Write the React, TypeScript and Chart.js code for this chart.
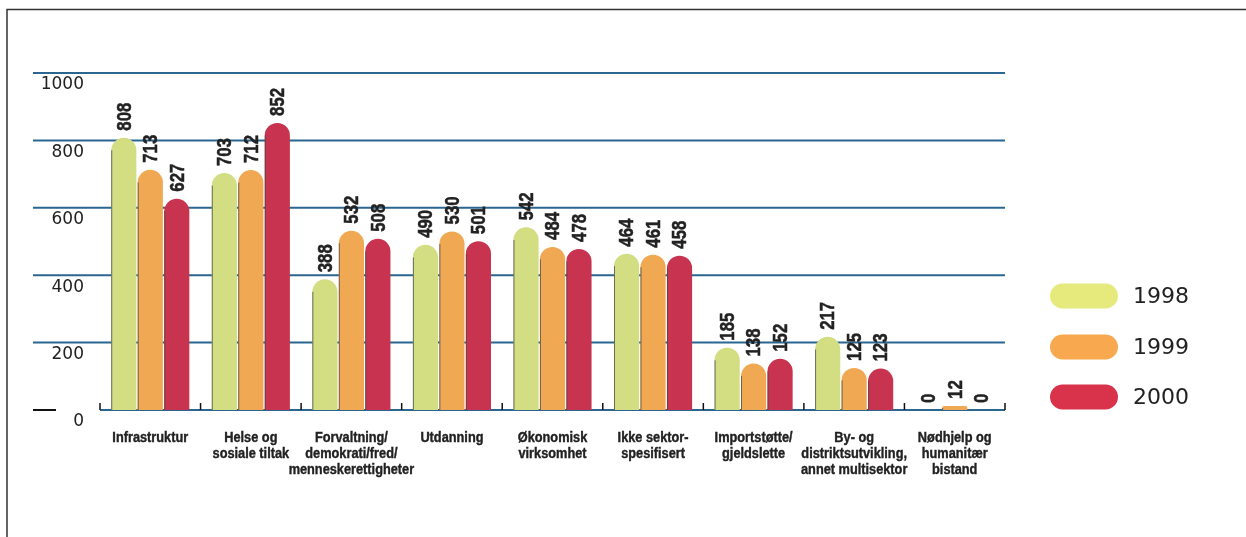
import React, { useEffect, useRef } from "react";
import { Chart, registerables } from "chart.js";

Chart.register(...registerables);

const CATEGORIES: string[][] = [
  ["Infrastruktur"],
  ["Helse og", "sosiale tiltak"],
  ["Forvaltning/", "demokrati/fred/", "menneskerettigheter"],
  ["Utdanning"],
  ["Økonomisk", "virksomhet"],
  ["Ikke sektor-", "spesifisert"],
  ["Importstøtte/", "gjeldslette"],
  ["By- og", "distriktsutvikling,", "annet multisektor"],
  ["Nødhjelp og", "humanitær", "bistand"],
];
const YEARS = ["1998", "1999", "2000"];
const VALUES_1998 = [808, 703, 388, 490, 542, 464, 185, 217, 0];
const VALUES_1999 = [713, 712, 532, 530, 484, 461, 138, 125, 12];
const VALUES_2000 = [627, 852, 508, 501, 478, 458, 152, 123, 0];
const Y_TICKS = [0, 200, 400, 600, 800, 1000];

const BAR_COLORS = ["#d3dd82", "#f1a852", "#c8344f"];
const LEGEND_COLORS = ["#e6ea7c", "#f8a94f", "#d8334a"];

const GRID_COLOR = "#2a6690";
const TEXT_COLOR = "#222222";
const VALUE_FONT = "bold 21px 'Liberation Sans', Arial, sans-serif";
const CAT_FONT = "bold 14.5px 'Liberation Sans', Arial, sans-serif";
const TICK_FONT = "17px 'DejaVu Sans', sans-serif";
const LEGEND_FONT = "22px 'DejaVu Sans', sans-serif";

function fillScaled(ctx: CanvasRenderingContext2D, text: string, x: number, y: number, sx: number) {
  ctx.save();
  ctx.translate(x, y);
  ctx.scale(sx, 1);
  ctx.strokeStyle = TEXT_COLOR;
  ctx.lineWidth = 0.4;
  ctx.fillText(text, 0, 0);
  ctx.strokeText(text, 0, 0);
  ctx.restore();
}

const decorPlugin = {
  id: "decor",
  beforeDatasetsDraw(chart: any) {
    const ctx: CanvasRenderingContext2D = chart.ctx;
    const area = chart.chartArea;
    const y = chart.scales.y;
    const x = chart.scales.x;
    ctx.save();
    // frame
    ctx.strokeStyle = "#333333";
    ctx.lineWidth = 1.5;
    ctx.beginPath();
    ctx.moveTo(7, chart.height);
    ctx.lineTo(7, 9.5);
    ctx.lineTo(chart.width, 9.5);
    ctx.stroke();
    // grid lines
    ctx.strokeStyle = GRID_COLOR;
    ctx.lineWidth = 2;
    Y_TICKS.forEach((t) => {
      const py = y.getPixelForValue(t);
      ctx.beginPath();
      ctx.moveTo(t === 0 ? area.left : 33, py);
      ctx.lineTo(area.right, py);
      ctx.stroke();
    });
    // black dash at zero
    const y0 = y.getPixelForValue(0);
    ctx.strokeStyle = "#111111";
    ctx.lineWidth = 2;
    ctx.beginPath();
    ctx.moveTo(33, y0);
    ctx.lineTo(56, y0);
    ctx.stroke();
    // category boundary ticks
    const cw = x.getPixelForValue(1) - x.getPixelForValue(0);
    ctx.lineWidth = 1.5;
    for (let i = 0; i <= CATEGORIES.length; i++) {
      const bx = x.getPixelForValue(0) - cw / 2 + i * cw;
      ctx.beginPath();
      ctx.moveTo(bx, y0 - 7);
      ctx.lineTo(bx, y0);
      ctx.stroke();
    }
    // tick labels
    ctx.fillStyle = TEXT_COLOR;
    ctx.font = TICK_FONT;
    ctx.textAlign = "right";
    ctx.textBaseline = "middle";
    Y_TICKS.forEach((t) => {
      ctx.fillText(String(t), 84, y.getPixelForValue(t) + 12);
    });
    ctx.restore();
  },
  afterDatasetsDraw(chart: any) {
    const ctx: CanvasRenderingContext2D = chart.ctx;
    const x = chart.scales.x;
    ctx.save();
    // bar left edges + value labels
    chart.data.datasets.forEach((ds: any, di: number) => {
      const meta = chart.getDatasetMeta(di);
      meta.data.forEach((el: any, i: number) => {
        const v = ds.data[i];
        const left = el.x - el.width / 2;
        if (v > 0) {
          const r = Math.min(el.width / 2, (el.base - el.y) / 2);
          ctx.strokeStyle = "rgba(70,70,70,0.75)";
          ctx.lineWidth = 1;
          ctx.beginPath();
          ctx.moveTo(left + 0.5, el.base);
          ctx.lineTo(left + 0.5, el.y + r);
          ctx.stroke();
        }
        ctx.save();
        ctx.translate(el.x + 1, el.y - 7);
        ctx.rotate(-Math.PI / 2);
        ctx.scale(0.8, 1);
        ctx.fillStyle = TEXT_COLOR;
        ctx.strokeStyle = TEXT_COLOR;
        ctx.lineWidth = 0.5;
        ctx.font = VALUE_FONT;
        ctx.textAlign = "left";
        ctx.textBaseline = "middle";
        ctx.fillText(String(v), 0, 0);
        ctx.strokeText(String(v), 0, 0);
        ctx.restore();
      });
    });
    // category labels
    ctx.fillStyle = TEXT_COLOR;
    ctx.font = CAT_FONT;
    ctx.textAlign = "center";
    ctx.textBaseline = "middle";
    CATEGORIES.forEach((lines, i) => {
      const px = x.getPixelForValue(i);
      lines.forEach((ln, li) => {
        fillScaled(ctx, ln, px, 438 + li * 16, 0.88);
      });
    });
    // legend
    const centers = [296, 347, 397];
    chart.data.datasets.forEach((ds: any, di: number) => {
      const cy = centers[di];
      const w = 68;
      const h = 25;
      const lx = 1050;
      ctx.fillStyle = LEGEND_COLORS[di];
      ctx.beginPath();
      ctx.moveTo(lx + h / 2, cy - h / 2);
      ctx.lineTo(lx + w - h / 2, cy - h / 2);
      ctx.arc(lx + w - h / 2, cy, h / 2, -Math.PI / 2, Math.PI / 2);
      ctx.lineTo(lx + h / 2, cy + h / 2);
      ctx.arc(lx + h / 2, cy, h / 2, Math.PI / 2, (3 * Math.PI) / 2);
      ctx.closePath();
      ctx.fill();
      ctx.fillStyle = TEXT_COLOR;
      ctx.font = LEGEND_FONT;
      ctx.textAlign = "left";
      ctx.textBaseline = "middle";
      ctx.fillText(ds.label, 1133, cy + 1);
    });
    ctx.restore();
  },
};

export default function App() {
  const ref = useRef<HTMLCanvasElement | null>(null);
  useEffect(() => {
    document.body.style.margin = "0";
    document.body.style.overflow = "hidden";
    const canvas = ref.current;
    if (!canvas) return;
    const seriesValues = [VALUES_1998, VALUES_1999, VALUES_2000];
    const chart = new Chart(canvas, {
      type: "bar",
      data: {
        labels: CATEGORIES.map((c) => c.join(" ")),
        datasets: YEARS.map((yr, i) => ({
          label: yr,
          data: seriesValues[i],
          backgroundColor: BAR_COLORS[i],
          borderWidth: 0,
          borderSkipped: "bottom",
          borderRadius: { topLeft: 13, topRight: 13, bottomLeft: 0, bottomRight: 0 },
          barPercentage: 0.95,
          categoryPercentage: 0.79,
        })),
      },
      options: {
        animation: false,
        responsive: false,
        maintainAspectRatio: false,
        layout: { padding: { left: 100, right: 241, top: 73, bottom: 127 } },
        plugins: {
          legend: { display: false },
          tooltip: { enabled: false },
        },
        scales: {
          x: { display: false, offset: true },
          y: { display: false, min: 0, max: 1000 },
        },
      },
      plugins: [decorPlugin],
    } as any);
    return () => chart.destroy();
  }, []);
  return (
    <div style={{ width: 1246, height: 537, background: "#ffffff" }}>
      <canvas ref={ref} width={1246} height={537} style={{ display: "block", width: 1246, height: 537 }} />
    </div>
  );
}
